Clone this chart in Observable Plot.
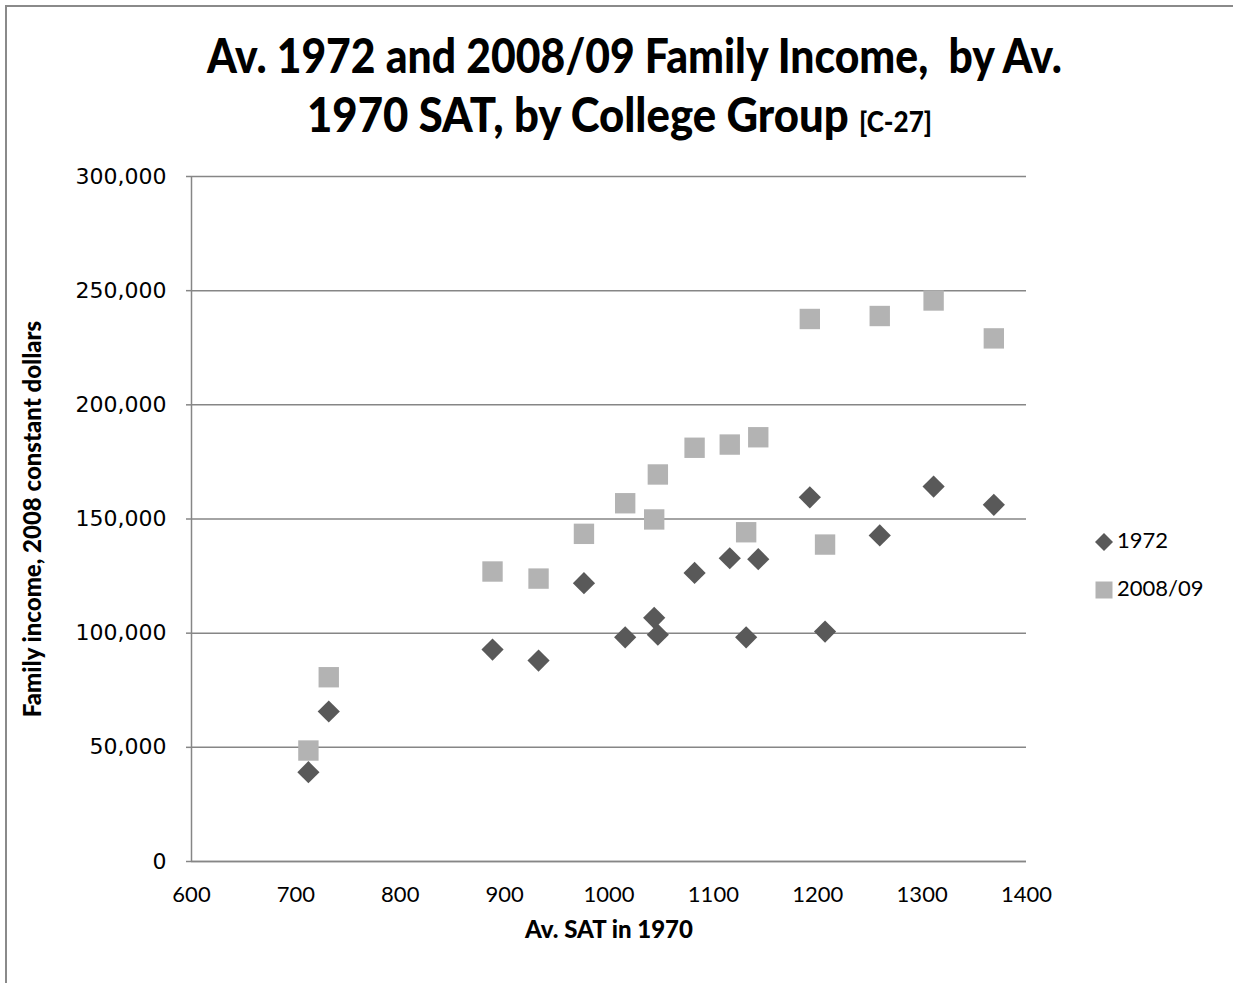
<!DOCTYPE html>
<html><head><meta charset="utf-8">
<script src="https://cdn.jsdelivr.net/npm/d3@7"></script>
<script src="https://cdn.jsdelivr.net/npm/@observablehq/plot@0.6"></script>
<style>
body{margin:0;background:#fff;}
#wrap{position:relative;width:1233px;height:983px;overflow:hidden;font-family:Lato,"Open Sans",sans-serif;background:#fff;}
#border{position:absolute;left:5px;top:5px;width:1400px;height:1200px;border-left:2px solid #8a8a8a;border-top:2px solid #8a8a8a;}
.tl{position:absolute;white-space:nowrap;font-weight:900;font-size:47px;line-height:1.2;color:#000;transform-origin:left top;}
.tl .sm{font-size:28px;font-weight:900;}
#chart{position:absolute;left:0;top:150px;}
.leg{position:absolute;font-size:22px;color:#000;white-space:nowrap;line-height:1.2;}
</style></head>
<body>
<div id="wrap">
  <div id="border"></div>
  <div class="tl" id="t1" data-left="207" data-width="855" data-base="73">Av. 1972 and 2008/09 Family Income,&nbsp; by Av.</div>
  <div class="tl" id="t2" data-left="307" data-width="625" data-base="132">1970 SAT, by College Group <span class="sm">[C-27]</span></div>
  <div id="chart"></div>
  <div id="legend"></div>
</div>
<script>
const xTicks = [600, 700, 800, 900, 1000, 1100, 1200, 1300, 1400];
const yTicks = [0, 50000, 100000, 150000, 200000, 250000, 300000];
const seriesNames = ["1972", "2008/09"];
const sat = [712, 731.5, 888.4, 932.5, 976, 1015.5, 1043.3, 1046.8, 1082, 1115.7, 1143, 1131.4, 1192.4, 1207, 1259.4, 1311, 1368.7];
const income1972 = [39100, 65700, 92800, 88000, 121900, 98200, 106700, 99300, 126400, 132800, 132400, 98200, 159500, 100700, 142800, 164200, 156200];
const income2008 = [48600, 80700, 127000, 123900, 143500, 156900, 149800, 169500, 181200, 182600, 185800, 144200, 237600, 138800, 238900, 245700, 229100];
const xLabel = "Av. SAT in 1970";
const yLabel = "Family income, 2008 constant dollars";

const d1972 = sat.map((s, i) => ({sat: s, income: income1972[i]}));
const d2008 = sat.map((s, i) => ({sat: s, income: income2008[i]}));

const grid = "#868686";
const chart = Plot.plot({
  width: 1233,
  height: 833,
  marginLeft: 191,
  marginRight: 207,
  marginTop: 26,
  marginBottom: 122,
  style: {background: "transparent", overflow: "visible"},
  x: {domain: [600, 1400]},
  y: {domain: [0, 300000]},
  marks: [
    Plot.gridY(yTicks, {stroke: grid, strokeOpacity: 1, strokeWidth: 1.5}),
    Plot.ruleX([600], {stroke: grid, strokeWidth: 1.5}),
    Plot.ruleY([0], {stroke: grid, strokeWidth: 1.5}),
    Plot.axisY({ticks: yTicks, tickFormat: d3.format(","), tickSize: 5, tickPadding: 20, stroke: grid, strokeWidth: 1.5,
      fontFamily: "DejaVu Sans", fontSize: 22, fill: "#000", label: null}),
    Plot.axisX({ticks: xTicks, tickFormat: d => String(d), tickSize: 0, tickPadding: 25,
      fontFamily: "Lato", fontSize: 22, fill: "#000", label: null}),
    Plot.text([xLabel], {frameAnchor: "bottom", dy: 76, fontFamily: "Lato", fontWeight: 900, fontSize: 24, fill: "#000"}),
    Plot.text([yLabel], {frameAnchor: "left", textAnchor: "middle", dx: -158, rotate: -90, fontFamily: "Lato", fontWeight: 900, fontSize: 24, fill: "#000"}),
    Plot.dot(d2008, {x: "sat", y: "income", symbol: "square", r: 11.5, fill: "#b3b3b3", stroke: "none"}),
    Plot.dot(d1972, {x: "sat", y: "income", symbol: "diamond2", r: 10, fill: "#595959", stroke: "none"})
  ]
});
document.getElementById("chart").appendChild(chart);

// legend
const leg = document.getElementById("legend");
const items = [
  {name: seriesNames[0], shape: '<svg width="20" height="20" style="position:absolute;left:0;top:0"><polygon points="10,1 19,10 10,19 1,10" fill="#595959"/></svg>', top: 532},
  {name: seriesNames[1], shape: '<svg width="20" height="20" style="position:absolute;left:0;top:0"><rect x="1.5" y="1.5" width="17" height="17" fill="#b3b3b3"/></svg>', top: 580}
];
items.forEach(it => {
  const d = document.createElement("div");
  d.className = "leg";
  d.style.left = "1094px";
  d.style.top = it.top + "px";
  d.style.height = "20px";
  d.innerHTML = it.shape + '<span style="position:absolute;left:23px;top:-5px">' + it.name + '</span>';
  leg.appendChild(d);
});

// fit title lines
document.querySelectorAll(".tl").forEach(el => {
  const fs = 47;
  const w = el.getBoundingClientRect().width;
  const s = (+el.dataset.width) / w;
  el.style.left = el.dataset.left + "px";
  el.style.top = (+el.dataset.base - 0.987 * fs) + "px";
  el.style.transform = `scaleX(${s})`;
});
</script>
</body></html>
